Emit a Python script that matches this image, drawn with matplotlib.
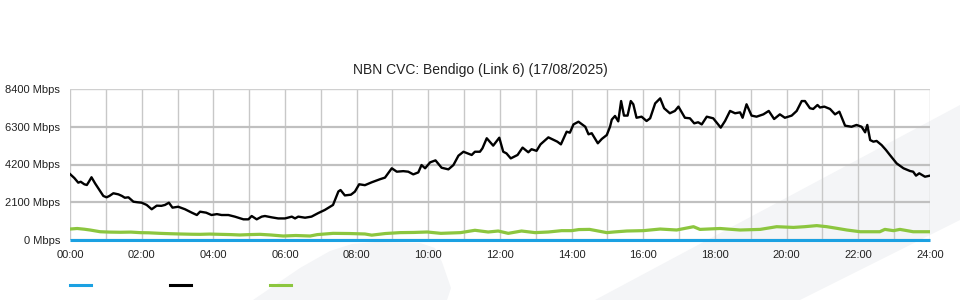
import numpy as np
import matplotlib
matplotlib.use('Agg')
import matplotlib.pyplot as plt
from matplotlib.patches import Polygon
from matplotlib.lines import Line2D

plt.rcParams['font.family'] = ['Liberation Sans', 'DejaVu Sans']

# data (hours since midnight, Mbps)
black_hours = [0.00, 0.12, 0.23, 0.30, 0.40, 0.47, 0.53, 0.60, 0.70, 0.79, 0.93, 1.02, 1.10, 1.21,
               1.35, 1.45, 1.53, 1.63, 1.77, 1.88, 2.00, 2.14, 2.28, 2.42, 2.55, 2.65, 2.76, 2.86,
               3.02, 3.21, 3.40, 3.54, 3.63, 3.80, 3.95, 4.10, 4.23, 4.42, 4.60, 4.84, 4.98, 5.07,
               5.21, 5.35, 5.44, 5.63, 5.81, 6.00, 6.19, 6.28, 6.37, 6.56, 6.74, 6.93, 7.11, 7.34,
               7.49, 7.55, 7.67, 7.84, 7.95, 8.07, 8.23, 8.42, 8.65, 8.79, 8.98, 9.12, 9.30, 9.44,
               9.58, 9.72, 9.81, 9.91, 10.05, 10.20, 10.37, 10.56, 10.70, 10.84, 10.98, 11.21,
               11.30, 11.44, 11.51, 11.63, 11.81, 11.98, 12.09, 12.18, 12.30, 12.49, 12.63, 12.79,
               12.88, 13.02, 13.13, 13.35, 13.60, 13.70, 13.86, 13.95, 14.05, 14.19, 14.38, 14.47,
               14.56, 14.73, 14.84, 14.98, 15.07, 15.12, 15.21, 15.30, 15.38, 15.46, 15.56, 15.65,
               15.72, 15.81, 15.95, 16.09, 16.19, 16.33, 16.47, 16.58, 16.74, 16.88, 16.98, 17.16,
               17.30, 17.42, 17.53, 17.63, 17.77, 17.95, 18.16, 18.28, 18.42, 18.56, 18.70, 18.77,
               18.88, 19.02, 19.16, 19.35, 19.50, 19.65, 19.81, 19.95, 20.14, 20.28, 20.42, 20.51,
               20.65, 20.74, 20.86, 20.93, 21.05, 21.21, 21.35, 21.47, 21.63, 21.81, 21.95, 22.09,
               22.19, 22.25, 22.33, 22.42, 22.51, 22.65, 22.77, 22.88, 23.07, 23.26, 23.44, 23.53,
               23.61, 23.70, 23.86, 24.00]
black_mbps = [3670, 3450, 3190, 3240, 3100, 3060, 3250, 3490, 3150, 2875, 2450, 2375, 2450, 2600,
              2540, 2450, 2350, 2375, 2130, 2100, 2075, 1950, 1710, 1910, 1900, 1950, 2075, 1800,
              1850, 1710, 1520, 1390, 1575, 1520, 1390, 1440, 1390, 1390, 1300, 1150, 1150, 1335,
              1150, 1300, 1335, 1260, 1200, 1200, 1300, 1200, 1300, 1240, 1300, 1500, 1670, 1950,
              2700, 2780, 2480, 2520, 2690, 3100, 3050, 3210, 3380, 3470, 3990, 3800, 3830, 3800,
              3650, 3760, 4170, 3990, 4320, 4430, 4020, 3930, 4170, 4690, 4910, 4730,
              4910, 4910, 5100, 5660, 5250, 5690, 4910, 4820, 4540, 4730, 5140, 4880,
              5050, 4960, 5320, 5710, 5470, 5320, 6025, 5970, 6430, 6580, 6300, 5880,
              5940, 5380, 5620, 5840, 6300, 6700, 6900, 6600, 7730, 6920, 6920, 7730,
              7550, 6800, 6860, 6620, 6770, 7600, 7880, 7330, 7050, 7180, 7420, 6800,
              6770, 6490, 6550, 6430, 6860, 6770, 6250, 6620, 7180, 7050, 7100, 6800,
              7550, 6920, 6860, 6990, 7180, 6730, 6990, 6800, 6920, 7180, 7730, 7730,
              7330, 7290, 7510, 7370, 7420, 7290, 6990, 7140, 6360, 6300, 6400, 6300,
              5990, 6400, 5560, 5470, 5510, 5280, 5010, 4730, 4260, 3990, 3840, 3800,
              3580, 3710, 3520, 3580]

green_hours = [0.00, 0.20, 0.40, 0.56, 0.84, 1.10, 1.40, 1.70, 1.95, 2.20, 2.51, 2.80, 3.07, 3.40,
               3.63, 3.90, 4.19, 4.50, 4.74, 5.00, 5.30, 5.60, 5.95, 6.30, 6.70, 6.90, 7.34, 7.80,
               8.23, 8.42, 8.80, 9.21, 9.60, 9.97, 10.35, 10.90, 11.30, 11.67, 11.95, 12.23, 12.60,
               12.98, 13.35, 13.72, 14.00, 14.20, 14.50, 14.98, 15.20, 15.54, 16.00, 16.47, 16.93,
               17.40, 17.58, 18.14, 18.70, 19.26, 19.72, 20.19, 20.50, 20.84, 21.12, 21.40, 21.68,
               22.05, 22.60, 22.74, 22.98, 23.16, 23.53, 24.00]
green_mbps = [610, 640, 600, 556, 460, 440, 430, 440, 410, 400, 370, 350, 335, 320,
              315, 330, 315, 300, 280, 300, 315, 280, 222, 250, 222, 300, 370, 360,
              335, 270, 360, 410, 420, 445, 370, 410, 540, 445, 500, 370, 500,
              410, 445, 520, 520, 580, 590, 410, 450, 500, 520, 610, 556,
              740, 590, 640, 556, 590, 740, 700, 740, 800, 740, 650, 556,
              460, 460, 590, 520, 590, 460, 460]

blue_hours = [0, 24]
blue_mbps = [0, 0]

y_ticks = [0, 2100, 4200, 6300, 8400]
x_ticks = list(range(0, 25, 2))
x_labels = ['%02d:00' % h for h in x_ticks]

BLUE = '#1ba1e2'
BLACK = '#000000'
GREEN = '#8cc63f'

fig = plt.figure(figsize=(9.6, 3.0), dpi=100)

def px(pts):
    # pixel coords -> figure fraction
    return [(x / 960, 1 - y / 300) for x, y in pts]

# light background decoration
left_shape = [(253, 300), (300, 268), (330, 251), (352, 244), (375, 242), (420, 243), (435, 248),
              (442, 262), (451, 288), (447, 300)]
band = [(595, 300), (960, 105), (960, 220), (800, 300)]
for shp in (left_shape, band):
    fig.patches.append(Polygon(px(shp), closed=True, transform=fig.transFigure,
                               facecolor='#f4f5f7', edgecolor='none', zorder=-5))

ax = fig.add_axes([70 / 960, 60 / 300, 860 / 960, 151 / 300])
ax.set_facecolor('none')

for h in range(0, 25):
    ax.axvline(h, color='#c8c8c8', lw=1.0, zorder=1)
for v in y_ticks:
    ax.axhline(v, color='#c0c0c0' if v < 8400 else '#d0d0d0', lw=1.6 if v < 8400 else 1.0, zorder=1)

ax.plot(green_hours, green_mbps, color=GREEN, lw=2.3, zorder=3)
ax.plot(black_hours, black_mbps, color=BLACK, lw=1.7, zorder=4)
ax.plot(blue_hours, blue_mbps, color=BLUE, lw=2.2, zorder=5, solid_capstyle='butt', clip_on=False)

ax.set_xlim(0, 24)
ax.set_ylim(0, 8400)
ax.set_xticks(x_ticks)
ax.set_xticklabels(x_labels)
ax.set_yticks(y_ticks)
ax.set_yticklabels(['%d Mbps' % v for v in y_ticks])
ax.tick_params(length=0, labelsize=8, colors='#222222')
ax.tick_params(axis='x', pad=7)
ax.tick_params(axis='y', pad=7)
for s in ax.spines.values():
    s.set_visible(False)

fig.text(0.5, 1 - 70 / 300, 'NBN CVC: Bendigo (Link 6) (17/08/2025)', ha='center', va='center',
         fontsize=10, color='#222222')

# legend swatches (no labels)
for x0, c in [(70, BLUE), (170, BLACK), (270, GREEN)]:
    fig.lines.append(Line2D([x0 / 960, (x0 + 21) / 960], [1 - 285 / 300] * 2,
                            transform=fig.transFigure, color=c, lw=2.2))

fig.savefig('out.png', dpi=100)
